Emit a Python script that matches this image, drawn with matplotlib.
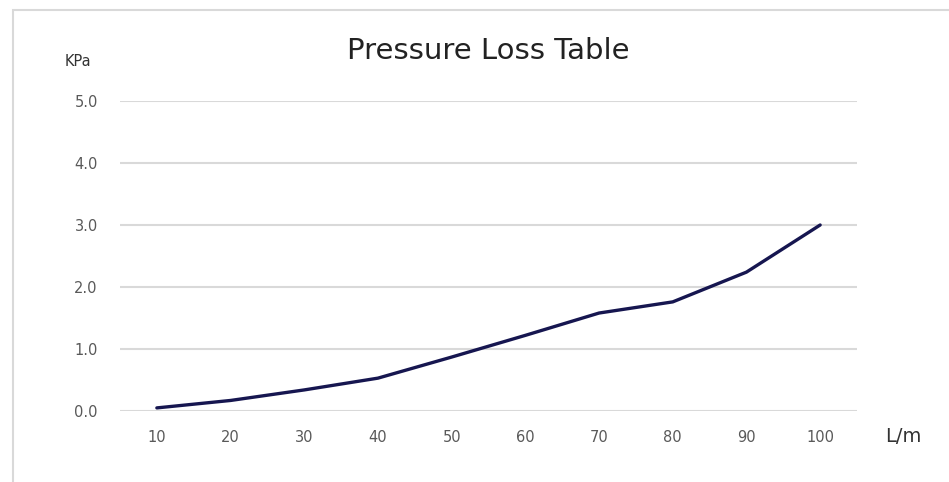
import matplotlib.pyplot as plt
from matplotlib import font_manager
from matplotlib.patches import Rectangle

# flow rate (L/m) vs pressure loss (KPa)
flow_labels = ["10", "20", "30", "40", "50", "60", "70", "80", "90", "100"]
pressure_loss = [0.05, 0.17, 0.34, 0.53, 0.87, 1.22, 1.58, 1.76, 2.24, 3.0]
y_ticks = [0.0, 1.0, 2.0, 3.0, 4.0, 5.0]

GRID = "#d9d9d9"
TEXT = "#595959"
LINE = "#161650"

installed = {f.name for f in font_manager.fontManager.ttflist}
narrow = [n for n in ["Liberation Sans Narrow", "DejaVu Sans Condensed"] if n in installed]
title_family = narrow + ["DejaVu Sans"]

fig = plt.figure(figsize=(9.49, 4.82), dpi=100)
fig.patch.set_facecolor("white")

# chart area border (runs off the right and bottom edges)
fig.patches.append(Rectangle((13 / 949, -0.1), 1.2, 1 - 10 / 482 + 0.1,
                             transform=fig.transFigure, fill=False,
                             edgecolor="#d9d9d9", linewidth=1.5))

ax = fig.add_axes([120 / 949, 1 - 411 / 482, 737 / 949, 310 / 482])
x = range(len(flow_labels))
ax.plot(x, pressure_loss, color=LINE, linewidth=2.4, solid_capstyle="round", zorder=3)

ax.set_xlim(-0.5, len(flow_labels) - 0.5)
ax.set_ylim(0, 5)
ax.set_xticks(list(x))
ax.set_xticklabels(flow_labels)
ax.set_yticks(y_ticks)
ax.set_yticklabels([f"{v:.1f}" for v in y_ticks])
ax.tick_params(length=0, labelsize=10.5, colors=TEXT, pad=14)
ax.tick_params(axis="y", pad=16)
ax.grid(axis="y", color=GRID, linewidth=1.5)
ax.set_axisbelow(True)
for side in ax.spines.values():
    side.set_visible(False)

fig.text(488 / 949, 1 - 51 / 482, "Pressure Loss Table", ha="center", va="center",
         fontsize=22 if narrow else 21, family=title_family, color="#222222")
fig.text(78 / 949, 1 - 62 / 482, "KPa", ha="center", va="center",
         fontsize=10.5, family=title_family, color="#333333")
fig.text(903 / 949, 1 - 437 / 482, "L/m", ha="center", va="center",
         fontsize=14, family=title_family, color="#333333")

fig.savefig("out.png", dpi=100, facecolor="white")
